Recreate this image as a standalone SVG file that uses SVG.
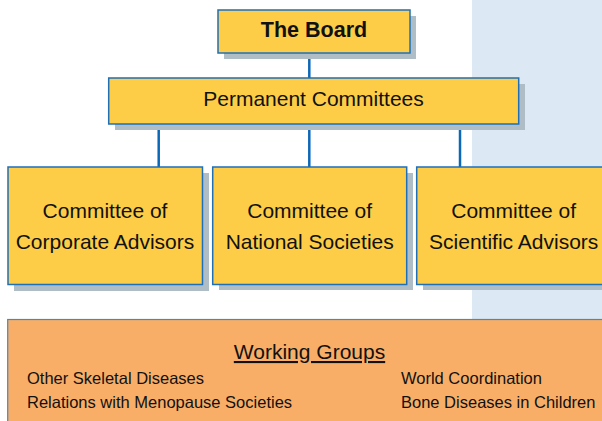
<svg xmlns="http://www.w3.org/2000/svg" width="602" height="421" viewBox="0 0 602 421">
<style>
.box{fill:#FDCD47;stroke:#1F6FB8;stroke-width:1.5}
.sh{fill:#AFBEC6}
.t{font-family:"Liberation Sans",Arial,sans-serif;fill:#111;text-anchor:middle}
.big{font-size:21px}
.small{font-family:"Liberation Sans",Arial,sans-serif;fill:#111;font-size:16.5px}
.conn{stroke:#0B68B8;stroke-width:2.5;fill:none}
</style>
<rect x="472" y="0" width="130" height="421" fill="#DCE8F3"/>
<g id="connectors">
<line class="conn" x1="309.3" y1="52" x2="309.3" y2="78"/>
<line class="conn" x1="158.7" y1="124" x2="158.7" y2="167"/>
<line class="conn" x1="309.3" y1="124" x2="309.3" y2="167"/>
<line class="conn" x1="460" y1="124" x2="460" y2="167"/>
</g>
<g id="board">
<rect class="sh" x="224" y="16" width="192" height="43"/>
<rect class="box" x="218" y="10" width="192" height="43"/>
<text class="t" x="314" y="37" font-size="21.5" font-weight="bold">The Board</text>
</g>
<g id="permanent">
<rect class="sh" x="115" y="84" width="410" height="46"/>
<rect class="box" x="108.7" y="78" width="410" height="46"/>
<text class="t big" x="313.5" y="106">Permanent Committees</text>
</g>
<g id="corporate">
<rect class="sh" x="14" y="173" width="195" height="118"/>
<rect class="box" x="8" y="167" width="194.5" height="117.5"/>
<text class="t big" x="105" y="218">Committee of</text>
<text class="t big" x="105" y="248.5">Corporate Advisors</text>
</g>
<g id="national">
<rect class="sh" x="219" y="173" width="194" height="117"/>
<rect class="box" x="212.7" y="167" width="194" height="117.5"/>
<text class="t big" x="309.7" y="218">Committee of</text>
<text class="t big" x="309.7" y="248.5">National Societies</text>
</g>
<g id="scientific">
<rect class="sh" x="423" y="173" width="194" height="117"/>
<rect class="box" x="416.7" y="167" width="194" height="117.5"/>
<text class="t big" x="513.7" y="218">Committee of</text>
<text class="t big" x="513.7" y="248.5">Scientific Advisors</text>
</g>
<g id="working-groups">
<rect x="7.7" y="319.5" width="604" height="110" fill="#F8AE67" stroke="#4A86C0" stroke-width="1.2"/>
<text class="t" x="309.5" y="359" font-size="21" text-decoration="underline">Working Groups</text>
<text class="small" x="27" y="384.3">Other Skeletal Diseases</text>
<text class="small" x="27" y="408.3">Relations with Menopause Societies</text>
<text class="small" x="401" y="384.3">World Coordination</text>
<text class="small" x="401" y="408.3">Bone Diseases in Children</text>
</g>
</svg>
